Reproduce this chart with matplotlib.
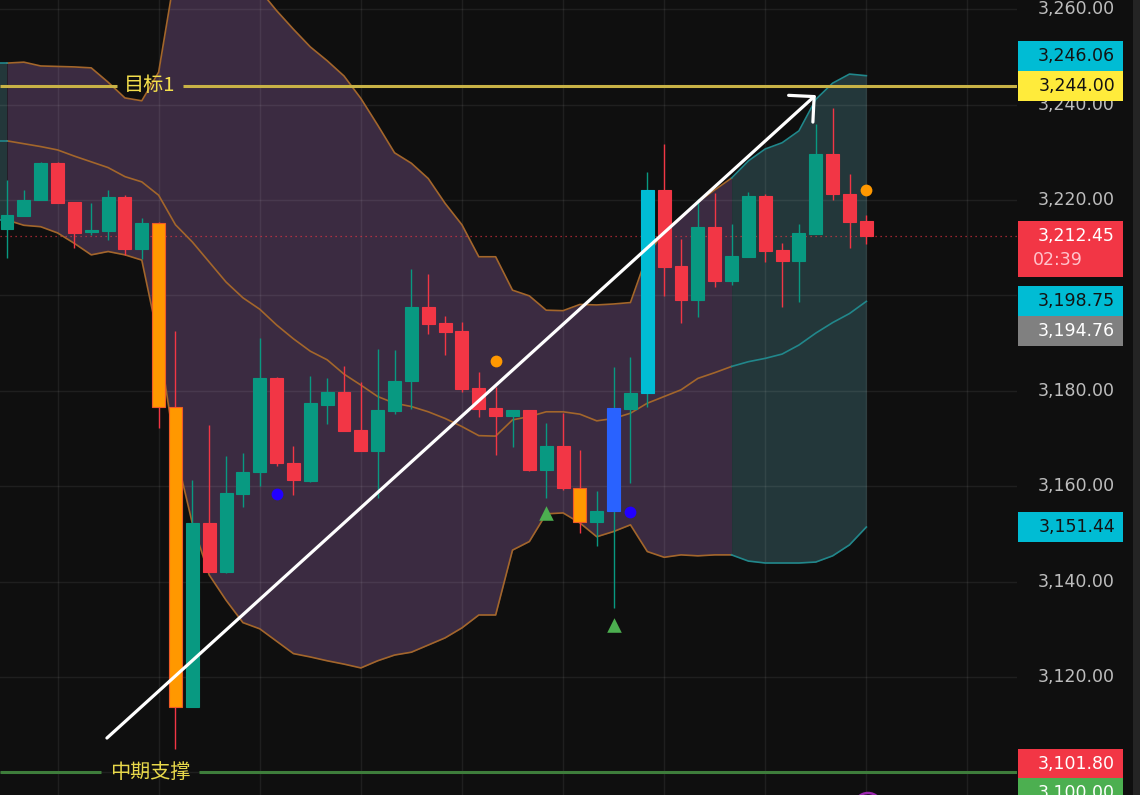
import matplotlib.pyplot as plt
import matplotlib.transforms as mtransforms
from matplotlib.patches import Rectangle, Ellipse
import numpy as np

plt.rcParams['font.family'] = ['Noto Sans CJK SC', 'DejaVu Sans']

# K线数据
opens = [3213.9, 3216.6, 3219.9, 3227.8, 3219.6, 3213.2, 3213.4, 3220.7, 3209.7, 3215.1,
         3176.7, 3113.8, 3152.2, 3142.1, 3158.4, 3162.9, 3182.6, 3164.9, 3161.1, 3177.1,
         3179.7, 3171.8, 3167.4, 3175.8, 3182.0, 3197.6, 3194.3, 3192.5, 3180.5, 3176.3,
         3174.8, 3176.0, 3163.4, 3168.4, 3159.7, 3152.4, 3154.7, 3176.2, 3179.5, 3222.2,
         3206.2, 3199.0, 3214.3, 3203.0, 3208.1, 3220.8, 3209.5, 3207.3, 3212.9, 3229.6,
         3221.2, 3215.6]
highs = [3224.2, 3222.1, 3228.0, 3228.0, 3219.6, 3219.4, 3222.1, 3221.0, 3216.3, 3215.3,
         3192.5, 3161.2, 3172.8, 3166.4, 3167.0, 3191.0, 3182.9, 3168.5, 3183.1, 3182.6,
         3185.2, 3181.8, 3188.7, 3188.6, 3205.5, 3204.5, 3195.7, 3194.4, 3183.9, 3180.8,
         3176.0, 3176.0, 3173.2, 3175.4, 3167.6, 3159.0, 3184.9, 3187.0, 3225.8, 3231.7,
         3211.8, 3220.3, 3221.5, 3214.9, 3221.6, 3221.3, 3210.9, 3214.9, 3236.0, 3239.2,
         3225.5, 3216.9]
lows = [3207.9, 3216.6, 3219.9, 3219.4, 3209.9, 3212.7, 3211.6, 3208.5, 3207.6, 3172.1,
        3104.8, 3113.8, 3142.1, 3141.8, 3155.6, 3160.1, 3164.2, 3158.2, 3160.9, 3173.0,
        3171.6, 3167.4, 3157.5, 3175.1, 3176.1, 3192.0, 3187.5, 3179.8, 3174.6, 3166.5,
        3168.3, 3163.2, 3157.6, 3159.1, 3150.1, 3147.5, 3134.4, 3160.7, 3176.7, 3199.9,
        3194.2, 3195.5, 3201.8, 3202.2, 3208.1, 3207.0, 3197.6, 3198.7, 3212.9, 3220.0,
        3210.0, 3210.8]
closes = [3216.9, 3220.0, 3227.8, 3219.4, 3213.1, 3213.7, 3220.7, 3209.7, 3215.2, 3176.7,
          3113.8, 3152.2, 3142.1, 3158.6, 3163.0, 3182.6, 3164.8, 3161.2, 3177.4, 3179.7,
          3171.6, 3167.4, 3176.0, 3182.1, 3197.6, 3194.1, 3192.4, 3180.4, 3176.2, 3174.8,
          3176.0, 3163.4, 3168.4, 3159.7, 3152.4, 3154.8, 3176.3, 3179.6, 3222.2, 3206.0,
          3199.0, 3214.3, 3203.0, 3208.3, 3220.8, 3209.4, 3207.3, 3213.0, 3229.6, 3221.2,
          3215.4, 3212.45]
special_candles = {9: 'orange', 10: 'orange', 34: 'orange', 36: 'blue', 38: 'cyan'}

# 布林带
upper = [3248.7, 3248.9, 3248.1, 3248.0, 3247.9, 3247.7, 3244.7, 3241.4, 3240.8, 3246.8,
         3268.0, 3279.0, 3283.0, 3281.0, 3274.0, 3264.0, 3259.7, 3255.8, 3252.1, 3249.2,
         3246.0, 3241.3, 3235.7, 3229.9, 3227.7, 3224.5, 3219.3, 3214.8, 3208.1, 3208.1,
         3201.1, 3199.9, 3196.9, 3196.8, 3198.1, 3198.0, 3198.2, 3198.5, 3208.5, 3213.3,
         3216.2, 3219.6, 3222.1, 3224.6, 3228.2, 3230.7, 3232.0, 3234.5, 3241.1, 3244.5,
         3246.4, 3246.06]
middle = [3232.4, 3231.8, 3231.2, 3230.5, 3229.2, 3228.0, 3226.8, 3224.9, 3223.8, 3221.0,
          3214.8, 3211.2, 3207.0, 3202.8, 3199.5, 3197.1, 3193.8, 3190.9, 3188.3, 3186.5,
          3183.5, 3181.2, 3178.8, 3177.4, 3176.7, 3175.6, 3174.2, 3172.5, 3170.6, 3170.5,
          3173.9, 3174.6, 3175.6, 3175.6, 3175.1, 3173.7, 3174.2, 3175.3, 3177.4, 3178.8,
          3180.2, 3182.6, 3183.8, 3185.1, 3186.1, 3186.8, 3187.7, 3189.6, 3192.1, 3194.3,
          3196.2, 3198.75]
lower = [3215.8, 3214.7, 3214.4, 3213.1, 3210.9, 3208.5, 3209.2, 3208.5, 3207.4, 3190.6,
         3167.2, 3152.2, 3141.4, 3136.1, 3131.4, 3130.1, 3127.5, 3124.9, 3124.2, 3123.4,
         3122.7, 3121.9, 3123.4, 3124.6, 3125.2, 3126.7, 3128.2, 3130.3, 3133.0, 3133.0,
         3146.6, 3148.4, 3154.2, 3154.4, 3152.3, 3149.4, 3150.5, 3151.9, 3146.3, 3145.1,
         3145.6, 3145.4, 3145.6, 3145.6, 3144.3, 3143.9, 3143.9, 3143.9, 3144.1, 3145.4,
         3147.7, 3151.44]
teal_start = 43

# 信号标记
blue_dot_idx = [16, 37]
blue_dot_price = [3158.4, 3154.5]
orange_dot_idx = [29, 51]
orange_dot_price = [3186.2, 3222.2]
triangle_idx = [32, 36]
triangle_price = [3154.3, 3130.9]

# 画线
target_level = 3244.0
support_level = 3100.0
last_price = 3212.45
arrow_start = (5.93, 3107.2)
arrow_end = (48.0, 3242.0)

# 右侧价格轴 (3200 / 3100 被标签遮住)
grid_levels = [3100, 3120, 3140, 3160, 3180, 3200, 3220, 3240, 3260]
ytick_labels = [3120, 3140, 3160, 3180, 3220, 3240, 3260]
tag_values = [3246.06, 3244.00, 3198.75, 3194.76, 3151.44, 3101.80, 3100.00]
tag_shift = [4.1, 0, 0, -2.3, 0, 0, -4.3]
tag_colors = ['#00bcd4', '#ffeb3b', '#00bcd4', '#808080', '#00bcd4', '#f23645', '#4caf50']
tag_text_colors = ['#131313', '#131313', '#131313', '#ffffff', '#131313', '#ffffff', '#ffffff']
countdown = '02:39'

BG = '#0f0f0f'
UP, DOWN = '#089981', '#f23645'
SPECIAL = {'orange': '#ff9800', 'blue': '#2962ff', 'cyan': '#00bcd4'}
PURPLE_FILL, TEAL_FILL = '#3b2b41', '#23373a'
BAND_ORANGE, BAND_TEAL = '#a3662b', '#21878b'

fig = plt.figure(figsize=(11.4, 7.95), dpi=100, facecolor=BG)
ax = fig.add_axes([0, 0, 1017 / 1140, 1])
ax.set_facecolor(BG)
ax.set_xlim(-0.415, 59.94)
ax.set_ylim(3095.26, 3261.93)
for s in ax.spines.values():
    s.set_visible(False)

ax.set_xticks(np.arange(3, 60, 6))
ax.set_yticks(grid_levels)
ax.tick_params(length=0, labelleft=False, labelbottom=False)
ax.set_axisbelow(True)
ax.grid(color='#ffffff', alpha=0.07, lw=1)

x = np.arange(len(opens))
up_a, mid_a, lo_a = np.array(upper), np.array(middle), np.array(lower)

# 布林带填充和线
ax.fill_between(x[:teal_start + 1], up_a[:teal_start + 1], lo_a[:teal_start + 1],
                color=PURPLE_FILL, lw=0, zorder=0.2)
ax.fill_between(x[teal_start:], up_a[teal_start:], lo_a[teal_start:],
                color=TEAL_FILL, lw=0, zorder=0.2)
ax.fill_between([-0.5, 0], [upper[0]] * 2, [lower[0]] * 2, color=TEAL_FILL, lw=0, zorder=0.2)
for band in (up_a, mid_a, lo_a):
    ax.plot(x[:teal_start + 1], band[:teal_start + 1], color=BAND_ORANGE, lw=1.2, zorder=2)
    ax.plot(x[teal_start:], band[teal_start:], color=BAND_TEAL, lw=1.2, zorder=2)
    ax.plot([-0.5, 0], [band[0]] * 2, color=BAND_TEAL, lw=1.2, zorder=2)

# 当前价虚线
ax.axhline(last_price, color=DOWN, ls=(0, (1, 3)), lw=0.9, alpha=0.8, zorder=1)

# K线
for i in range(len(opens)):
    o, h, l, c = opens[i], highs[i], lows[i], closes[i]
    wick = UP if c >= o else DOWN
    col, edge = wick, wick
    if i in special_candles:
        col = SPECIAL[special_candles[i]]
        edge = '#f05a28' if special_candles[i] == 'orange' else col
    ax.vlines(i, l, h, color=wick, lw=1, zorder=3)
    ax.bar(i, max(abs(c - o), 0.4), bottom=min(o, c), width=0.77, color=col,
           edgecolor=edge, lw=0.8, zorder=4)

# 标记
ax.scatter(blue_dot_idx, blue_dot_price, s=72, color='#2200ff', zorder=6, lw=0)
ax.scatter(orange_dot_idx, orange_dot_price, s=72, color='#ff9800', zorder=6, lw=0)
ax.scatter(triangle_idx, triangle_price, s=110, marker='^', color='#4caf50', zorder=6, lw=0)

# 目标线 / 支撑线
xl, xr = ax.get_xlim()
ax.hlines(target_level, xl, 6.53, color='#c8b246', lw=2.2, zorder=5)
ax.hlines(target_level, 10.45, xr, color='#c8b246', lw=2.2, zorder=5)
ax.text(8.49, target_level, '目标1', color='#f4df4c', fontsize=14.5, ha='center',
        va='center', zorder=7)
ax.hlines(support_level, xl, 5.56, color='#3e7d3b', lw=2.2, zorder=5)
ax.hlines(support_level, 11.41, xr, color='#3e7d3b', lw=2.2, zorder=5)
ax.text(8.52, support_level, '中期支撑', color='#e8d84a', fontsize=14.5, ha='center',
        va='center', zorder=7)

# 箭头
ax.annotate('', xy=arrow_end, xytext=arrow_start,
            arrowprops=dict(arrowstyle='->,head_length=1.3,head_width=1.3', color='white',
                            lw=2.3, shrinkA=0, shrinkB=0), zorder=8)

# 右侧价格轴
trans = mtransforms.blended_transform_factory(fig.transFigure, ax.transData)
px = 4.77  # 每价格单位像素
for v in ytick_labels:
    ax.text(1115 / 1140, v, f'{v:,.2f}', transform=trans, ha='right', va='center',
            color='#bdbdbd', fontsize=12.5, family='DejaVu Sans', clip_on=False, zorder=9)

tag_x0, tag_w, tag_h = 1018 / 1140, 105 / 1140, 30 / px
for v, sh, bc, tc in zip(tag_values, tag_shift, tag_colors, tag_text_colors):
    yc = v + sh
    r = Rectangle((tag_x0, yc - tag_h / 2), tag_w, tag_h, transform=trans,
                  facecolor=bc, edgecolor='none', clip_on=False, zorder=10)
    ax.add_artist(r)
    ax.text(1115 / 1140, yc, f'{v:,.2f}', transform=trans, ha='right', va='center',
            color=tc, fontsize=12.5, family='DejaVu Sans', clip_on=False, zorder=11)

# 当前价标签 (含倒计时)
top = last_price + 15 / px
r = Rectangle((tag_x0, top - 56 / px), tag_w, 56 / px, transform=trans,
              facecolor=DOWN, edgecolor='none', clip_on=False, zorder=10)
ax.add_artist(r)
ax.text(1115 / 1140, last_price, f'{last_price:,.2f}', transform=trans, ha='right',
        va='center', color='#ffffff', fontsize=12.5, family='DejaVu Sans', clip_on=False,
        zorder=11)
ax.text(1033 / 1140, last_price - 24 / px, countdown, transform=trans, ha='left',
        va='center', color='#ffc4cc', fontsize=12.5, family='DejaVu Sans', clip_on=False,
        zorder=11)

# 右边滚动条与底部图标
fig.add_artist(Rectangle((1133 / 1140, 0), 7 / 1140, 1, transform=fig.transFigure,
                         facecolor='#242424', edgecolor='none'))
fig.add_artist(Ellipse((868 / 1140, -12 / 795), 28 / 1140, 28 / 795, transform=fig.transFigure,
                       facecolor='none', edgecolor='#9c27b0', lw=1.8))

fig.savefig('out.png', dpi=100, facecolor=BG)
